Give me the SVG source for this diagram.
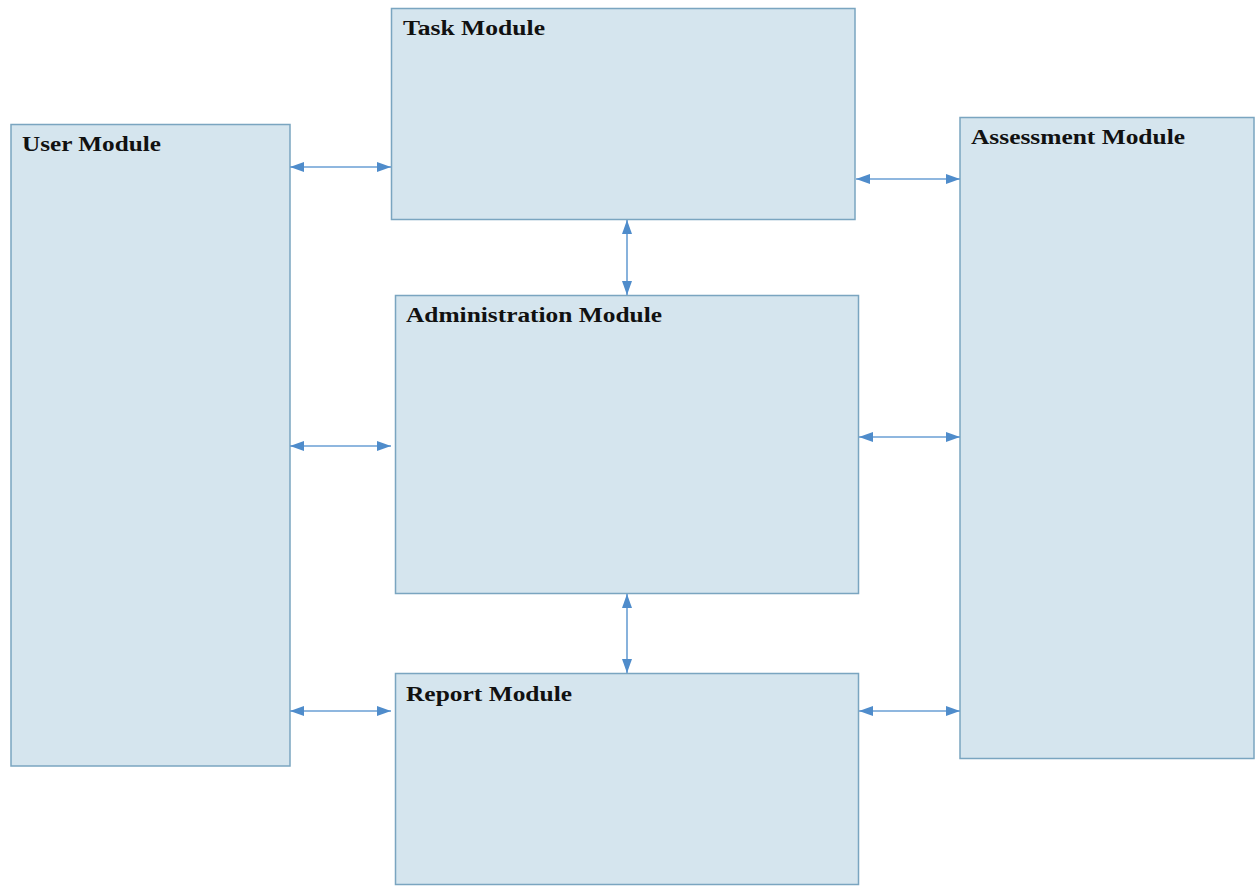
<svg xmlns="http://www.w3.org/2000/svg" width="1257" height="886" viewBox="0 0 1257 886">
<defs>
<style>
.box{fill:#d5e5ee;stroke:#7aa5c0;stroke-width:1.5}
.lbl{font-family:"Liberation Serif","Times New Roman",serif;font-weight:bold;font-size:20px;fill:#111}
.con{stroke:#6a9fd4;stroke-width:1.6;fill:none;marker-start:url(#ah);marker-end:url(#ah)}
</style>
<marker id="ah" viewBox="0 0 14 10" refX="14" refY="5" markerWidth="14" markerHeight="10" markerUnits="userSpaceOnUse" orient="auto-start-reverse">
<path d="M0,0 L14,5 L0,10 z" fill="#4f8ccb"/>
</marker>
</defs>
<rect width="1257" height="886" fill="#fff"/>
<g id="user"><rect class="box" x="11" y="124.5" width="279" height="641.5"/><text class="lbl" x="22" y="151" textLength="139" lengthAdjust="spacingAndGlyphs">User Module</text></g>
<g id="task"><rect class="box" x="391.5" y="8.5" width="463.5" height="211"/><text class="lbl" x="403" y="35" textLength="142" lengthAdjust="spacingAndGlyphs">Task Module</text></g>
<g id="assessment"><rect class="box" x="960" y="117.5" width="294" height="641"/><text class="lbl" x="971" y="144" textLength="214" lengthAdjust="spacingAndGlyphs">Assessment Module</text></g>
<g id="administration"><rect class="box" x="395.5" y="295.5" width="463" height="298"/><text class="lbl" x="406" y="322" textLength="256" lengthAdjust="spacingAndGlyphs">Administration Module</text></g>
<g id="report"><rect class="box" x="395.5" y="673.5" width="463" height="211"/><text class="lbl" x="406" y="701" textLength="166" lengthAdjust="spacingAndGlyphs">Report Module</text></g>
<g id="connectors">
<line class="con" x1="290" y1="167" x2="391" y2="167"/>
<line class="con" x1="856" y1="179" x2="960" y2="179"/>
<line class="con" x1="627" y1="220" x2="627" y2="295"/>
<line class="con" x1="290" y1="446" x2="391" y2="446"/>
<line class="con" x1="859" y1="437" x2="960" y2="437"/>
<line class="con" x1="627" y1="594" x2="627" y2="673"/>
<line class="con" x1="290" y1="711" x2="391" y2="711"/>
<line class="con" x1="859" y1="711" x2="960" y2="711"/>
</g>
</svg>
